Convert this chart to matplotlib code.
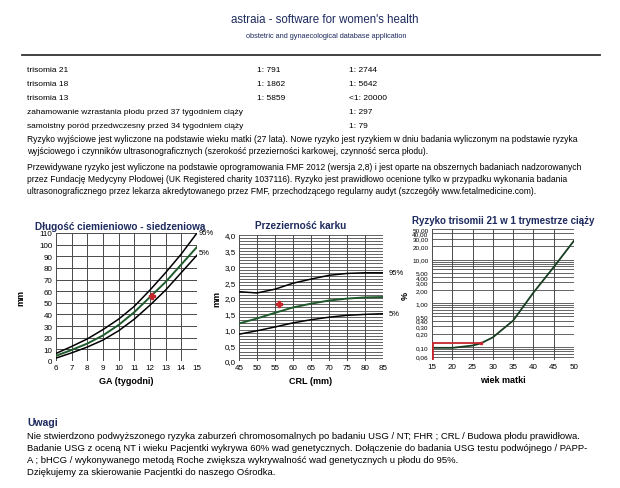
import matplotlib
matplotlib.use('Agg')
import matplotlib.pyplot as plt
from matplotlib.ticker import FuncFormatter, MultipleLocator, FixedLocator, NullFormatter

plt.rcParams['font.family'] = ['Liberation Sans', 'DejaVu Sans']

# --- data ---
risk_names = ['trisomia 21', 'trisomia 18', 'trisomia 13',
              'zahamowanie wzrastania płodu przed 37 tygodniem ciąży',
              'samoistny poród przedwczesny przed 34 tygodniem ciąży']
risk_base = ['1: 791', '1: 1862', '1: 5859', '', '']
risk_new = ['1: 2744', '1: 5642', '<1: 20000', '1: 297', '1: 79']

ga = [6, 7, 8, 9, 10, 11, 12, 13, 14, 15]
crl_p95 = [6.5, 12.5, 19, 27, 36, 47, 61, 76, 92, 110]
crl_med = [4.5, 9.5, 15, 22, 31, 42, 55, 68, 83, 98]
crl_p5 = [2.5, 7, 12, 18, 26, 36, 48, 61, 76, 91]
crl_pt = (12.1, 56)

crl_x = [45, 50, 55, 60, 65, 70, 75, 80, 85]
nt_p95 = [2.2, 2.16, 2.28, 2.47, 2.6, 2.72, 2.78, 2.8, 2.8]
nt_med = [1.19, 1.35, 1.53, 1.7, 1.82, 1.92, 1.98, 2.02, 2.03]
nt_p5 = [0.85, 0.96, 1.08, 1.21, 1.31, 1.39, 1.45, 1.48, 1.5]
nt_pt = (56.2, 1.8)

age = [15, 20, 25, 27, 30, 35, 40, 45, 50]
t21_risk = [0.095, 0.095, 0.107, 0.12, 0.165, 0.4, 1.75, 6.7, 27]
pat_age, pat_risk = 27, 0.123
log_ticks = [0.06, 0.1, 0.2, 0.3, 0.4, 0.5, 1, 2, 3, 4, 5, 10, 20, 30, 40, 50]

navy = '#1d2a5e'
green = '#1f5a2c'
red = '#c4262b'
grid_c = '#4a4a4a'

W, H = 620, 489
fig = plt.figure(figsize=(6.2, 4.89), dpi=100)


def txt(x, y, s, **kw):
    kw.setdefault('va', 'center')
    fig.text(x / W, 1 - y / H, s, **kw)


def box(l, t, r, b):
    return [l / W, 1 - b / H, (r - l) / W, (b - t) / H]


# header
txt(325, 20, "astraia - software for women's health", ha='center', fontsize=8.3, color=navy)
txt(326, 37, 'obstetric and gynaecological database application', ha='center', fontsize=5.3, color=navy)
fig.add_artist(plt.Line2D([22 / W, 600 / W], [1 - 56 / H] * 2, color='#333333', lw=1.3))

for i, name in enumerate(risk_names):
    y = 70 + i * 14.2
    txt(27, y, name, fontsize=6)
    txt(257, y, risk_base[i], fontsize=6)
    txt(349, y, risk_new[i], fontsize=6)

para = ['Ryzyko wyjściowe jest wyliczone na podstawie wieku matki (27 lata). Nowe ryzyko jest ryzykiem w dniu badania wyliczonym na podstawie ryzyka',
        'wyjściowego i czynników ultrasonograficznych (szerokość przezierności karkowej, czynność serca płodu).',
        None,
        'Przewidywane ryzyko jest wyliczone na podstawie oprogramowania FMF 2012 (wersja 2,8) i jest oparte na obszernych badaniach nadzorowanych',
        'przez Fundację Medycyny Płodowej (UK Registered charity 1037116). Ryzyko jest prawidłowo ocenione tylko w przypadku wykonania badania',
        'ultrasonograficznego przez lekarza akredytowanego przez FMF, przechodzącego regularny audyt (szczegóły www.fetalmedicine.com).']
ys = [139, 151, None, 168, 180, 192]
for s, y in zip(para, ys):
    if s:
        txt(27, y, s, fontsize=6.15)

# --- chart 1: CRL ---
ax1 = fig.add_axes(box(56, 234, 197, 362))
ax1.plot(ga, crl_p95, color='black', lw=1.1)
ax1.plot(ga, crl_p5, color='black', lw=1.1)
ax1.plot(ga, crl_med, color=green, lw=1.4)
ax1.plot(*crl_pt, marker='P', color=red, ms=5, mec=red)
ax1.set_xlim(6, 15)
ax1.set_ylim(0, 110)
ax1.xaxis.set_major_locator(MultipleLocator(1))
ax1.yaxis.set_major_locator(MultipleLocator(10))
ax1.grid(True, color=grid_c, lw=0.7)
ax1.text(15.1, 110, '95%', fontsize=5.5, va='center')
ax1.text(15.1, 93, '5%', fontsize=5.5, va='center')
ax1.set_xlabel('GA (tygodni)', fontsize=6.5, fontweight='bold', labelpad=3)
ax1.set_ylabel('mm', fontsize=6.5, fontweight='bold', labelpad=10)
ax1.set_title('Długość ciemieniowo - siedzeniowa', fontsize=7.2, fontweight='bold',
              color=navy, pad=3, x=0.455)

# --- chart 2: NT ---
ax2 = fig.add_axes(box(239, 236, 383, 362))
ax2.plot(crl_x, nt_p95, color='black', lw=1.1)
ax2.plot(crl_x, nt_p5, color='black', lw=1.1)
ax2.plot(crl_x, nt_med, color=green, lw=1.4)
ax2.plot(*nt_pt, marker='P', color=red, ms=5, mec=red)
ax2.set_xlim(45, 85)
ax2.set_ylim(0, 4)
ax2.xaxis.set_major_locator(MultipleLocator(5))
ax2.yaxis.set_major_locator(MultipleLocator(0.5))
ax2.yaxis.set_minor_locator(MultipleLocator(0.1))
ax2.yaxis.set_major_formatter(FuncFormatter(lambda v, p: ('%.1f' % v).replace('.', ',')))
ax2.grid(True, which='both', axis='y', color=grid_c, lw=0.6)
ax2.grid(True, axis='x', color=grid_c, lw=0.7)
ax2.text(86.5, 2.8, '95%', fontsize=5.5, va='center')
ax2.text(86.5, 1.5, '5%', fontsize=5.5, va='center')
ax2.set_xlabel('CRL (mm)', fontsize=6.5, fontweight='bold', labelpad=3)
ax2.set_ylabel('mm', fontsize=6.5, fontweight='bold', labelpad=2)
ax2.set_title('Przezierność karku', fontsize=7.2, fontweight='bold', color=navy, pad=5, x=0.43)

# --- chart 3: trisomy 21 risk ---
ax3 = fig.add_axes(box(432, 230, 574, 361))
ax3.set_yscale('log')
ax3.plot(age, t21_risk, color='#173d20', lw=1.3)
ax3.plot([age[0], pat_age], [pat_risk, pat_risk], color=red, lw=1.3)
ax3.plot([age[0], age[0]], [0.05, pat_risk], color=red, lw=2)
ax3.plot(pat_age, pat_risk, marker='s', color=red, ms=2)
ax3.set_xlim(15, 50)
ax3.set_ylim(0.05, 50)
ax3.xaxis.set_major_locator(MultipleLocator(5))
ax3.yaxis.set_major_locator(FixedLocator(log_ticks))
ax3.yaxis.set_minor_formatter(NullFormatter())
ax3.yaxis.set_major_formatter(FuncFormatter(lambda v, p: ('%.2f' % v).replace('.', ',')))
ax3.grid(True, which='both', axis='y', color=grid_c, lw=0.6)
ax3.grid(True, axis='x', color=grid_c, lw=0.7)
ax3.set_xlabel('wiek matki', fontsize=6.5, fontweight='bold', labelpad=3)
ax3.set_ylabel('%', fontsize=6.5, fontweight='bold', labelpad=2)
ax3.set_title('Ryzyko trisomii 21 w 1 trymestrze ciąży', fontsize=7, fontweight='bold', color=navy, pad=4)

for ax in (ax1, ax2, ax3):
    ax.tick_params(which='both', length=0, labelsize=5.8, pad=2.5)
    ax.set_axisbelow(True)
    for sp in ax.spines.values():
        sp.set_visible(False)
ax3.tick_params(axis='y', labelsize=4.6)

# notes
txt(27, 423, 'Uwagi', fontsize=7.5, fontweight='bold', color=navy)
notes = ['Nie stwierdzono podwyższonego ryzyka zaburzeń chromosomalnych po badaniu USG / NT; FHR ; CRL / Budowa płodu prawidłowa.',
         'Badanie USG z oceną NT i wieku Pacjentki wykrywa 60% wad genetycznych. Dołączenie do badania USG testu podwójnego / PAPP-',
         'A ; bHCG / wykonywanego metodą Roche zwiększa wykrywalność wad genetycznych u płodu do 95%.',
         'Dziękujemy za skierowanie Pacjentki do naszego Ośrodka.']
for i, s in enumerate(notes):
    txt(27, 437 + i * 12, s, fontsize=6.8)

fig.savefig('out.png', dpi=100, facecolor='white')
